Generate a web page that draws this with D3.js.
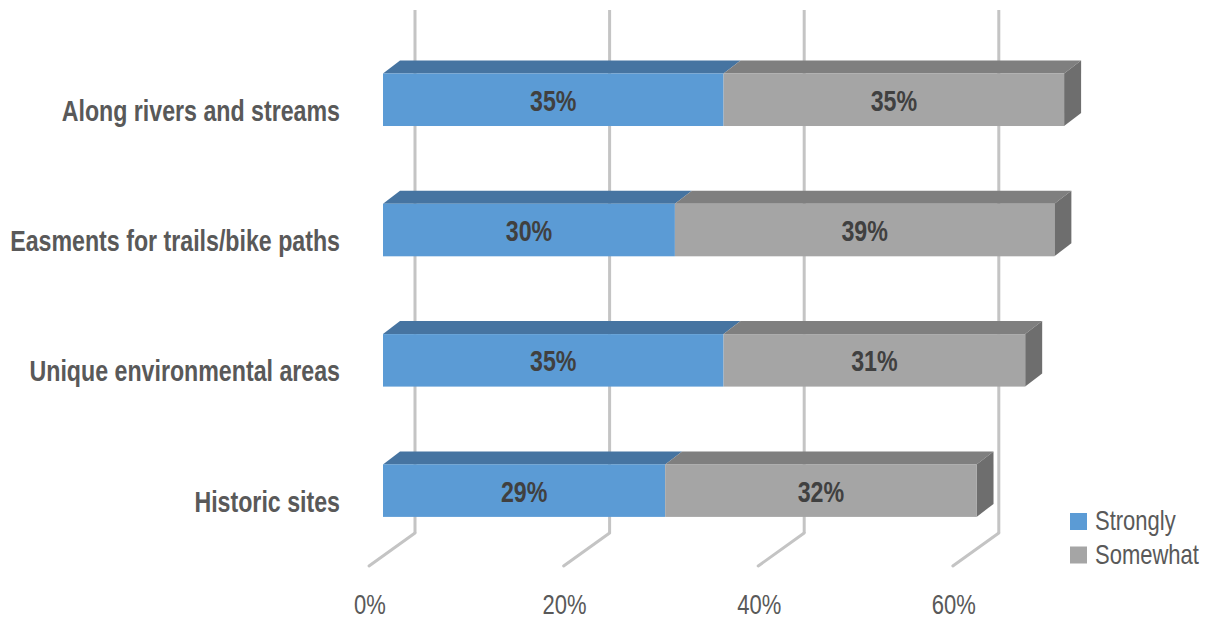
<!DOCTYPE html>
<html><head><meta charset="utf-8">
<script src="https://cdn.jsdelivr.net/npm/d3@7"></script>
<style>
html,body{margin:0;padding:0;background:#fff;}
svg{display:block;}
text{font-family:"Liberation Sans Narrow","Liberation Sans","DejaVu Sans Condensed",Arial,sans-serif;}
</style></head>
<body>
<svg id="chart" width="1211" height="622"></svg>
<script>
const categories = ["Along rivers and streams","Easments for trails/bike paths","Unique environmental areas","Historic sites"];
const strongly = [35,30,35,29];
const somewhat = [35,39,31,32];
const seriesNames = ["Strongly","Somewhat"];
const tickValues = [0,20,40,60];
const tickLabels = ["0%","20%","40%","60%"];

const svg = d3.select("#chart");
const x = d3.scaleLinear().domain([0,60]).range([383, 966.8]);
const y = d3.scaleBand().domain(categories).range([73.5, 516.9]).paddingInner(0.597).paddingOuter(0);
const color = d3.scaleOrdinal().domain(seriesNames).range(["#5B9BD5","#A5A5A5"]);
const topColor = d3.scaleOrdinal().domain(seriesNames).range(["#4674A1","#7F7F7F"]);
const sideColor = "#6E6E6E";
const bdx = 17, bdy = -13;      // bar depth
const wdx = 32;                 // back wall offset
const wallTop = 10, wallBottom = 533;
const floorDx = -46, floorDy = 33;

function measure(str, weight, size){
  const t = svg.append("text").attr("font-weight",weight).attr("font-size",size).text(str);
  const w = t.node().getComputedTextLength(); t.remove(); return w;
}
const boldSize = 30, regSize = 28;
const boldFactor = 330 / measure("Easments for trails/bike paths","bold",boldSize);
const regFactor = 104 / measure("Somewhat","normal",regSize);
// horizontally condense text around its anchor point
function condense(sel, factor){
  sel.each(function(){
    const s = d3.select(this);
    const px = +s.attr("x"), py = +s.attr("y");
    s.attr("x",0).attr("y",0).attr("transform",`translate(${px},${py}) scale(${factor},1)`);
  });
}

// gridlines on back wall
const grid = svg.append("g");
grid.selectAll("line.v").data(tickValues).join("line")
  .attr("x1", d=>x(d)+wdx).attr("x2", d=>x(d)+wdx)
  .attr("y1", wallTop).attr("y2", wallBottom)
  .attr("stroke","#C4C4C4").attr("stroke-width",3);
grid.selectAll("line.f").data(tickValues).join("line")
  .attr("x1", d=>x(d)+wdx).attr("x2", d=>x(d)+wdx+floorDx)
  .attr("y1", wallBottom).attr("y2", wallBottom+floorDy)
  .attr("stroke","#C4C4C4").attr("stroke-width",3).attr("stroke-linecap","round");

// tick labels
svg.append("g").selectAll("text").data(tickValues).join("text")
  .attr("x", d=>x(d)+wdx+floorDx+1).attr("y", 614)
  .attr("text-anchor","middle").attr("font-size",regSize).attr("fill","#595959")
  .text((d,i)=>tickLabels[i]).call(condense, regFactor);

// bars
const rows = categories.map((c,i)=>({cat:c, segs:[
  {s:"Strongly", x0:0, x1:strongly[i], v:strongly[i]},
  {s:"Somewhat", x0:strongly[i], x1:strongly[i]+somewhat[i], v:somewhat[i]}
]}));
const bars = svg.append("g");
rows.forEach(r=>{
  const y0 = y(r.cat), h = y.bandwidth();
  const g = bars.append("g");
  g.selectAll("path.top").data(r.segs).join("path")
    .attr("d", d=>`M${x(d.x0)},${y0}L${x(d.x1)},${y0}L${x(d.x1)+bdx},${y0+bdy}L${x(d.x0)+bdx},${y0+bdy}Z`)
    .attr("fill", d=>topColor(d.s));
  const last = r.segs[r.segs.length-1];
  g.append("path")
    .attr("d", `M${x(last.x1)},${y0}L${x(last.x1)+bdx},${y0+bdy}L${x(last.x1)+bdx},${y0+bdy+h}L${x(last.x1)},${y0+h}Z`)
    .attr("fill", sideColor);
  g.selectAll("rect").data(r.segs).join("rect")
    .attr("x", d=>x(d.x0)).attr("y", y0)
    .attr("width", d=>x(d.x1)-x(d.x0)).attr("height", h)
    .attr("fill", d=>color(d.s));
  g.selectAll("text").data(r.segs).join("text")
    .attr("x", d=>(x(d.x0)+x(d.x1))/2).attr("y", y0+h/2+11)
    .attr("text-anchor","middle").attr("font-weight","bold").attr("font-size",boldSize)
    .attr("fill","#404040").text(d=>d.v+"%").call(condense, boldFactor);
});

// category labels
svg.append("g").selectAll("text").data(categories).join("text")
  .attr("x", 340).attr("y", d=>y(d)+y.bandwidth()/2+21)
  .attr("text-anchor","end").attr("font-weight","bold").attr("font-size",boldSize)
  .attr("fill","#595959").text(d=>d).call(condense, boldFactor);

// legend
const leg = svg.append("g").attr("transform","translate(1070,513)");
const li = leg.selectAll("g").data(seriesNames).join("g").attr("transform",(d,i)=>`translate(0,${i*33.5})`);
li.append("rect").attr("width",17).attr("height",17).attr("fill",d=>color(d));
li.append("text").attr("x",25).attr("y",17).attr("font-size",regSize).attr("fill","#595959")
  .text(d=>d).call(condense, regFactor);
</script>
</body></html>
